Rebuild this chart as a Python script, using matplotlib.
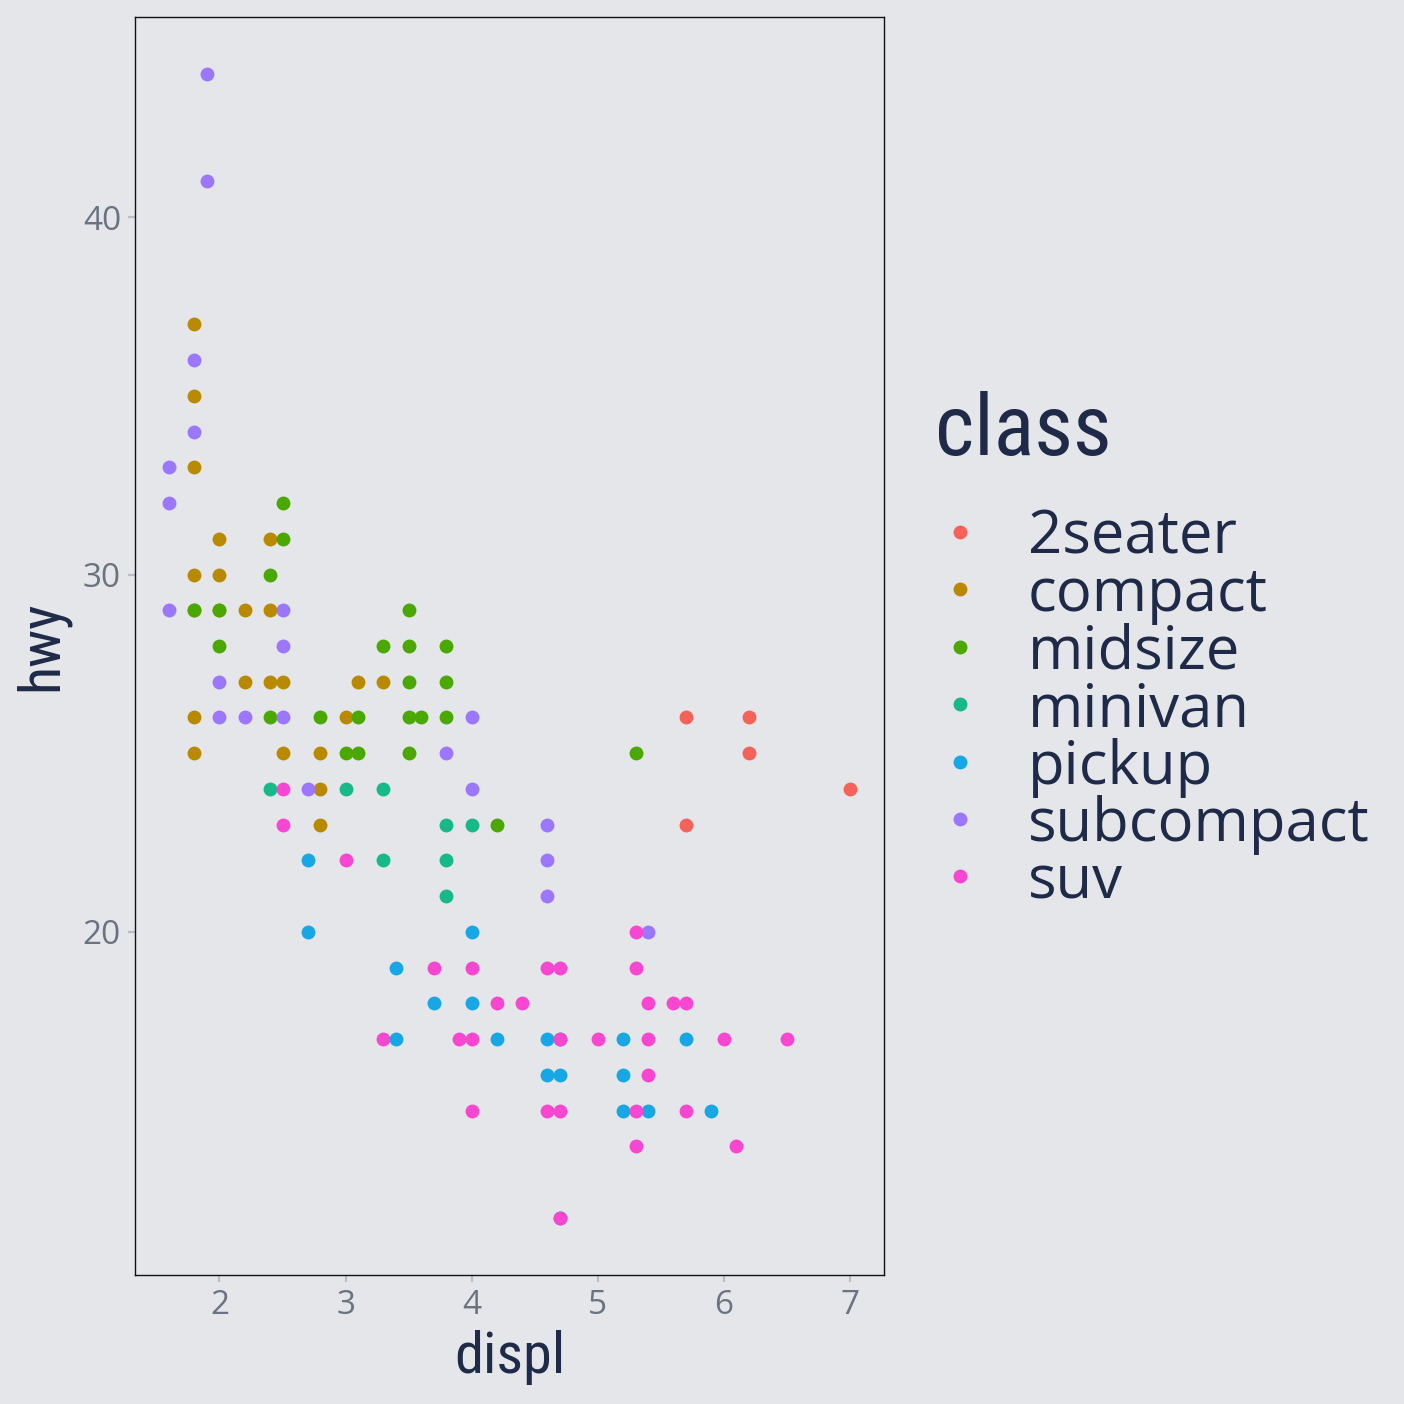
import matplotlib
matplotlib.use('Agg')
import matplotlib.pyplot as plt
from matplotlib import font_manager as fm

# ---------------- data ----------------
classes = ['2seater', 'compact', 'midsize', 'minivan', 'pickup', 'subcompact', 'suv']
colors = ['#F5625A', '#B98A00', '#4AA800', '#16B987', '#17A7E5', '#9B76FF', '#F746D0']

displ_2seater = [5.7, 5.7, 6.2, 6.2, 7.0]
hwy_2seater = [26, 23, 26, 25, 24]

displ_compact = [1.8, 1.8, 1.8, 1.8, 1.8, 2.0, 2.0, 2.0, 2.4, 2.4, 2.2, 2.2, 2.4,
                 2.5, 1.8, 1.8, 2.5, 2.8, 2.8, 2.8, 3.1, 3.3, 3.0]
hwy_compact = [37, 35, 33, 30, 29, 31, 30, 29, 31, 29, 29, 27, 27,
               27, 26, 25, 25, 25, 24, 23, 27, 27, 26]

displ_midsize = [2.5, 2.5, 2.4, 1.8, 2.0, 2.0, 2.4, 2.8, 3.5, 3.3, 3.5, 3.8, 3.5,
                 3.8, 3.1, 3.5, 3.6, 3.8, 3.0, 3.1, 3.5, 4.2, 5.3]
hwy_midsize = [32, 31, 30, 29, 29, 28, 26, 26, 29, 28, 28, 28, 27,
               27, 26, 26, 26, 26, 25, 25, 25, 23, 25]

displ_minivan = [2.4, 3.0, 3.3, 3.3, 3.8, 4.0, 3.8, 3.8]
hwy_minivan = [24, 24, 24, 22, 23, 23, 22, 21]

displ_pickup = [2.7, 2.7, 3.4, 3.4, 3.7, 4.0, 4.0, 4.2, 4.6, 4.6, 4.7, 4.7, 4.7,
                5.2, 5.2, 5.2, 5.4, 5.7, 5.9]
hwy_pickup = [22, 20, 19, 17, 18, 20, 18, 17, 17, 16, 16, 17, 12,
              17, 16, 15, 15, 17, 15]

displ_subcompact = [1.9, 1.9, 1.8, 1.8, 1.6, 1.6, 1.6, 2.5, 2.5, 2.0, 2.0, 2.2,
                    2.5, 2.7, 3.8, 4.0, 4.0, 4.6, 4.6, 4.6, 5.4]
hwy_subcompact = [44, 41, 36, 34, 33, 32, 29, 29, 28, 27, 26, 26,
                  26, 24, 25, 26, 24, 23, 22, 21, 20]

displ_suv = [2.5, 2.5, 3.0, 3.7, 4.0, 4.0, 4.0, 3.3, 3.9, 4.2, 4.4, 4.6, 4.7, 4.7,
             4.6, 4.7, 4.7, 5.0, 5.3, 5.3, 5.3, 5.3, 5.4, 5.4, 5.4, 5.6, 5.7,
             5.7, 6.0, 6.1, 6.5]
hwy_suv = [24, 23, 22, 19, 19, 17, 15, 17, 17, 18, 18, 19, 19, 17,
           15, 15, 12, 17, 20, 19, 15, 14, 18, 17, 16, 18, 18,
           15, 17, 14, 17]

series = {
    '2seater': (displ_2seater, hwy_2seater),
    'compact': (displ_compact, hwy_compact),
    'midsize': (displ_midsize, hwy_midsize),
    'minivan': (displ_minivan, hwy_minivan),
    'pickup': (displ_pickup, hwy_pickup),
    'subcompact': (displ_subcompact, hwy_subcompact),
    'suv': (displ_suv, hwy_suv),
}

x_ticks = [2, 3, 4, 5, 6, 7]
y_ticks = [20, 30, 40]

# ---------------- style ----------------
BG = '#E4E6EA'
NAVY = '#1E2A47'
GREY = '#6B7280'
TICK = '#B9BDC4'

names = {f.name for f in fm.fontManager.ttflist}
cond_kw = {'family': 'DejaVu Sans'}
for cand in ['Liberation Sans Narrow', 'Roboto Condensed', 'Open Sans Condensed']:
    if cand in names:
        cond_kw = {'family': cand}
        break
else:
    if any(f.name == 'DejaVu Sans' and f.stretch == 'condensed' for f in fm.fontManager.ttflist):
        cond_kw = {'family': 'DejaVu Sans', 'stretch': 'condensed'}

body_font = 'Open Sans' if 'Open Sans' in names else 'DejaVu Sans'

W = H = 1404
fig = plt.figure(figsize=(W / 100, H / 100), dpi=100, facecolor=BG)
ax = fig.add_axes([135 / W, 1 - 1275 / H, (884 - 135) / W, (1275 - 17) / H])
ax.set_facecolor(BG)

for cls, col in zip(classes, colors):
    xs, ys = series[cls]
    ax.scatter(xs, ys, s=100, color=col, linewidths=0, zorder=3)

ax.set_xlim(1.33, 7.27)
ax.set_ylim(10.4, 45.6)
ax.set_xticks(x_ticks)
ax.set_yticks(y_ticks)
ax.set_xticklabels([str(t) for t in x_ticks], fontfamily=body_font, fontsize=24, color=GREY)
ax.set_yticklabels([str(t) for t in y_ticks], fontfamily=body_font, fontsize=24, color=GREY)
ax.tick_params(length=5, width=1.6, color=TICK, pad=5)
for sp in ax.spines.values():
    sp.set_color('#111111')
    sp.set_linewidth(1.0)
ax.grid(False)

ax.set_xlabel('displ', fontsize=42, color=NAVY, labelpad=6, **cond_kw)
ax.set_ylabel('hwy', fontsize=42, color=NAVY, labelpad=10, **cond_kw)

# ---------------- legend (drawn in pixel coordinates) ----------------
lax = fig.add_axes([0, 0, 1, 1])
lax.set_xlim(0, W)
lax.set_ylim(H, 0)
lax.axis('off')
lax.text(935, 455, 'class', fontsize=61, color=NAVY, va='baseline', ha='left', **cond_kw)
row0, step = 532, 57.4
for i, (cls, col) in enumerate(zip(classes, colors)):
    yy = row0 + i * step
    lax.scatter([960], [yy], s=100, color=col, linewidths=0)
    lax.text(1028, yy + 22, cls, fontsize=43, color=NAVY, va='baseline', ha='left',
             fontfamily=body_font)

fig.savefig('out.png', dpi=100, facecolor=BG)
